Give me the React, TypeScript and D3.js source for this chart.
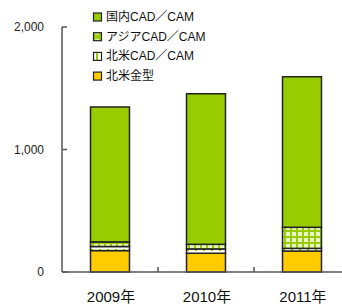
import React from "react";
import * as d3 from "d3";

const years = ["2009年", "2010年", "2011年"];
const naMold = [175, 153, 171];
const naCad = [33, 35, 22];
const asiaCad = [38, 38, 172];
const domesticCad = [1101, 1229, 1229];
const yTicks = [0, 1000, 2000];
const seriesNames = ["国内CAD／CAM", "アジアCAD／CAM", "北米CAD／CAM", "北米金型"];

const W = 342;
const H = 304;

export default function App() {
  const y = d3.scaleLinear().domain([0, 2000]).range([272, 27]);
  const x = d3
    .scaleBand<string>()
    .domain(years)
    .range([62, 350])
    .paddingInner(0.594)
    .paddingOuter(0.297);
  const step = x.step();

  const series = [
    { key: "mold", values: naMold, fill: "#ffcc00" },
    { key: "na", values: naCad, fill: "url(#patNA)" },
    { key: "asia", values: asiaCad, fill: "url(#patAsia)" },
    { key: "dom", values: domesticCad, fill: "#99cc00" },
  ];
  const table = years.map((yr, i) => ({
    year: yr,
    mold: naMold[i],
    na: naCad[i],
    asia: asiaCad[i],
    dom: domesticCad[i],
  }));
  const stacked = d3.stack<any>().keys(series.map((s) => s.key))(table);

  const legendFills = ["#99cc00", "url(#patAsiaL)", "url(#patNAL)", "#ffcc00"];
  const font = "'Liberation Sans', Arial, 'Noto Sans CJK JP', sans-serif";
  const axisColor = "#555";

  return (
    <svg
      width={W}
      height={H}
      style={{ position: "absolute", left: 0, top: 0, background: "#fff" }}
      fontFamily={font}
    >
      <defs>
        <pattern id="patAsia" width="6" height="6" patternUnits="userSpaceOnUse">
          <rect width="6" height="6" fill="#e8f4c8" />
          <rect x="2" y="0" width="2" height="6" fill="#99cc00" />
          <rect x="0" y="2" width="6" height="2" fill="#99cc00" />
        </pattern>
        <pattern id="patNA" width="8" height="4" patternUnits="userSpaceOnUse">
          <rect width="8" height="4" fill="#ffffff" />
          <rect x="3" y="1" width="2" height="2" fill="#99cc00" />
        </pattern>
        <pattern id="patAsiaL" width="8" height="8" patternUnits="userSpaceOnUse">
          <rect width="8" height="8" fill="#99cc00" />
          <rect x="2" y="2" width="4" height="4" fill="#d6eb99" />
        </pattern>
        <pattern id="patNAL" width="8" height="8" patternUnits="userSpaceOnUse">
          <rect width="8" height="8" fill="#ffffff" />
          <rect x="3" y="0" width="2" height="8" fill="#99cc00" />
        </pattern>
      </defs>

      {/* bars */}
      {stacked.map((layer, si) =>
        layer.map((d, i) => (
          <rect
            key={`${si}-${i}`}
            x={x(years[i])}
            y={y(d[1])}
            width={x.bandwidth()}
            height={y(d[0]) - y(d[1])}
            fill={series[si].fill}
            stroke="#222"
            strokeWidth={1.5}
          />
        ))
      )}

      {/* y axis */}
      <line x1={62} x2={62} y1={y(2000)} y2={y(0)} stroke={axisColor} strokeWidth={1.5} />
      {yTicks.map((t) => (
        <g key={t}>
          <line x1={62} x2={67} y1={y(t)} y2={y(t)} stroke={axisColor} strokeWidth={1.5} />
          <text
            x={44}
            y={y(t)}
            textAnchor="end"
            dominantBaseline="central"
            fontSize={12}
            fill="#222"
          >
            {d3.format(",")(t)}
          </text>
        </g>
      ))}

      {/* x axis */}
      <line x1={62} x2={W} y1={y(0)} y2={y(0)} stroke={axisColor} strokeWidth={1.5} />
      {years.map((yr, i) => (
        <g key={yr}>
          {i > 0 && (
            <line
              x1={62 + step * i}
              x2={62 + step * i}
              y1={y(0)}
              y2={y(0) - 5}
              stroke={axisColor}
              strokeWidth={1.5}
            />
          )}
          <text
            x={(x(yr) as number) + x.bandwidth() / 2 + 1}
            y={296}
            textAnchor="middle"
            dominantBaseline="central"
            fontSize={15}
            fill="#111"
          >
            {yr}
          </text>
        </g>
      ))}

      {/* legend */}
      {seriesNames.map((name, i) => (
        <g key={name} transform={`translate(93, ${17 + i * 19.7})`}>
          <rect x={0.5} y={-4} width={8} height={8} fill={legendFills[i]} stroke="#222" strokeWidth={1.2} />
          <text x={13} y={0} dominantBaseline="central" fontSize={12} fill="#111">
            {name}
          </text>
        </g>
      ))}
    </svg>
  );
}
